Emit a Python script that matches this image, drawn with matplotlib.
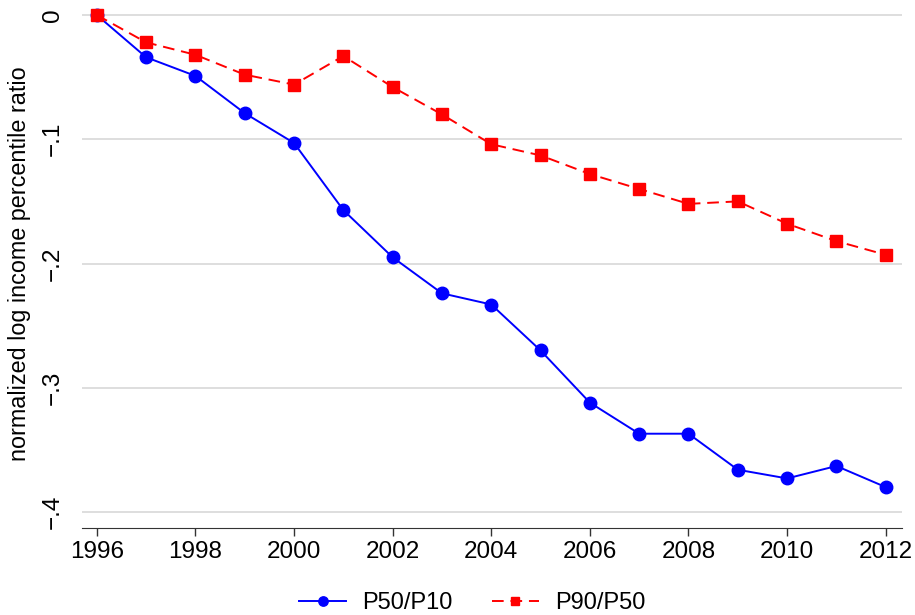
import matplotlib
matplotlib.use("Agg")
from matplotlib import pyplot as plt

years = list(range(1996, 2013))
p50_p10 = [0.0, -0.034, -0.049, -0.079, -0.103, -0.157, -0.195, -0.224, -0.233,
           -0.270, -0.312, -0.337, -0.337, -0.366, -0.373, -0.363, -0.380]
p90_p50 = [0.0, -0.022, -0.032, -0.048, -0.056, -0.033, -0.058, -0.080, -0.104,
           -0.113, -0.128, -0.140, -0.152, -0.150, -0.168, -0.182, -0.193]
yticks = [0, -0.1, -0.2, -0.3, -0.4]
ytick_labels = ["0", "\u2212.1", "\u2212.2", "\u2212.3", "\u2212.4"]
xticks = list(range(1996, 2013, 2))

plt.rcParams["font.family"] = ["Liberation Sans", "DejaVu Sans"]

fig = plt.figure(figsize=(9.15, 6.15), dpi=100)
ax = fig.add_axes([82 / 915, 1 - 528 / 615, (902 - 82) / 915, 528 / 615])

ax.plot(years, p50_p10, color="#0000ff", lw=1.4, marker="o", ms=9,
        label="P50/P10", zorder=3)
ax.plot(years, p90_p50, color="#ff0000", lw=1.4, ls=(0, (6, 3.5)), marker="s", ms=8.5,
        label="P90/P50", zorder=3)

ax.set_xlim(1995.70, 2012.33)
ax.set_ylim(-0.4129, 0.0121)
ax.set_xticks(xticks)
ax.set_yticks(yticks)
ax.set_yticklabels(ytick_labels, rotation=90, va="center")
ax.tick_params(axis="x", labelsize=17.5, length=6, width=1.0, color="#333333", pad=3)
ax.tick_params(axis="y", labelsize=17.5, length=0, pad=13)
ax.grid(axis="y", color="#d8d8d8", lw=1.2)
ax.set_axisbelow(True)
for side in ("left", "right", "top"):
    ax.spines[side].set_visible(False)
ax.spines["bottom"].set_color("#333333")
ax.set_ylabel("normalized log income percentile ratio", fontsize=16.8)
ax.yaxis.set_label_coords(-0.062, 0.5)

fig.legend(loc="lower center", bbox_to_anchor=(0.516, -0.033), ncol=2, frameon=False,
           fontsize=17, handlelength=2.0, columnspacing=1.65, handletextpad=0.68,
           markerscale=0.75)

fig.savefig("out.png", dpi=100)
